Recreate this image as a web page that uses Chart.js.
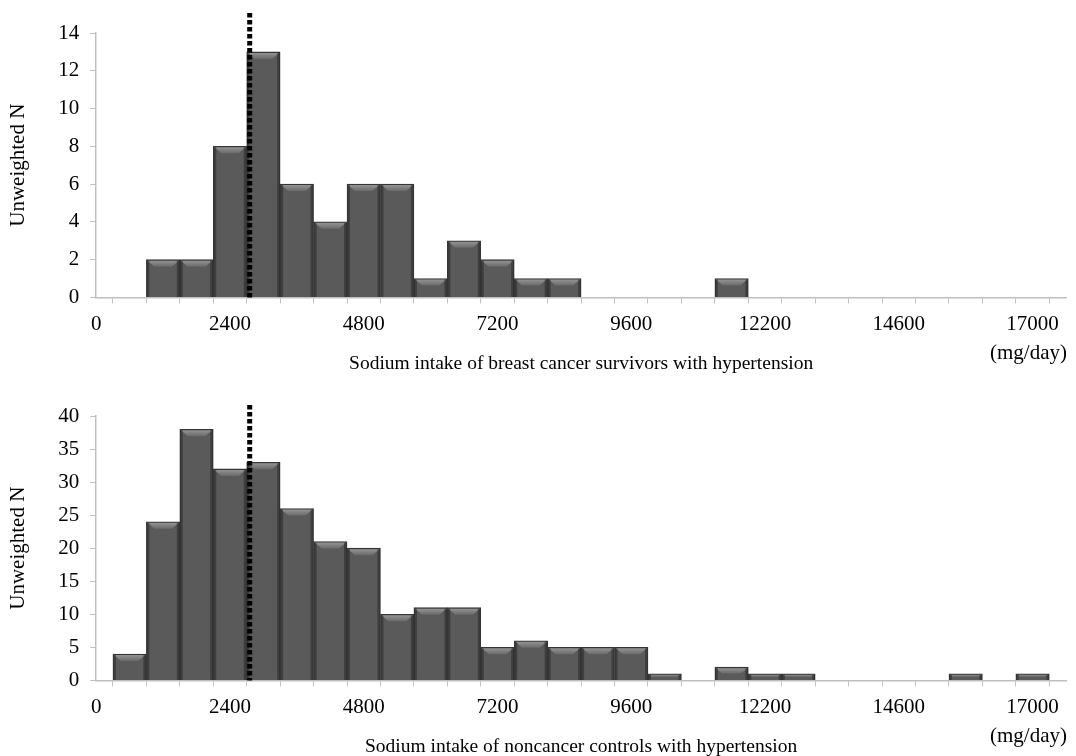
<!DOCTYPE html>
<html>
<head>
<meta charset="utf-8">
<script src="https://cdn.jsdelivr.net/npm/chart.js@4.4.0/dist/chart.umd.min.js"></script>
<style>
  html, body { margin: 0; padding: 0; background: #fff; overflow: hidden; }
  canvas { display: block; }
</style>
</head>
<body>
<canvas id="graficoSobrevivientes" width="1076" height="380"></canvas>
<canvas id="graficoControles" width="1076" height="379"></canvas>
<script>
// one category per 600 mg bin, 30 bins on each axis
const categorias = Array.from({ length: 30 }, (_, i) => i)

// labels printed under every 4th bin (as in the original figure)
const etiquetasX = ["0", "2400", "4800", "7200", "9600", "12200", "14600", "17000"]

const survivorsN = [0, 0, 2, 2, 8, 13, 6, 4, 6, 6, 1, 3, 2, 1, 1, 0, 0, 0, 0, 1, 0, 0, 0, 0, 0, 0, 0, 0, 0, 0]
const controlsN = [0, 4, 24, 38, 32, 33, 26, 21, 20, 10, 11, 11, 5, 6, 5, 5, 5, 1, 0, 2, 1, 1, 0, 0, 0, 0, 1, 0, 1, 0]

// dotted reference line, in bin units
const lineaReferencia = 4.59

const fuente = "'Liberation Serif', 'Times New Roman', serif"
const gris = "#bfbfbf"

// bevel look of the bars: light strip on top, darker sides
const bisel = {
    id: "bisel",
    afterDatasetsDraw(chart) {
        const { ctx } = chart
        chart.getDatasetMeta(0).data.forEach(barra => {
            const h = barra.base - barra.y
            if (h <= 0) return
            const izq = barra.x - barra.width / 2
            const der = barra.x + barra.width / 2
            const b = Math.min(7, h / 2)
            ctx.save()
            const g = ctx.createLinearGradient(0, barra.y, 0, barra.y + b)
            g.addColorStop(0, "#9a9a9a")
            g.addColorStop(1, "#6a6a6a")
            ctx.fillStyle = g
            ctx.beginPath()
            ctx.moveTo(izq + 1, barra.y + 1)
            ctx.lineTo(der - 1, barra.y + 1)
            ctx.lineTo(der - 1 - b, barra.y + b)
            ctx.lineTo(izq + 1 + b, barra.y + b)
            ctx.closePath()
            ctx.fill()
            ctx.fillStyle = "rgba(30,30,30,0.45)"
            ctx.fillRect(izq + 1, barra.y + 1, 2, h - 1)
            ctx.fillRect(der - 3, barra.y + 1, 2, h - 1)
            ctx.restore()
        })
    },
}

const lineaPunteada = {
    id: "lineaPunteada",
    afterDatasetsDraw(chart, args, opts) {
        const { ctx, chartArea, scales } = chart
        const x = scales.x.getPixelForValue(lineaReferencia)
        ctx.save()
        ctx.strokeStyle = "#000"
        ctx.lineWidth = 5
        ctx.setLineDash([4.5, 2.5])
        ctx.beginPath()
        ctx.moveTo(x, chartArea.top - opts.arriba)
        ctx.lineTo(x, chartArea.bottom)
        ctx.stroke()
        ctx.restore()
    },
}

const unidad = {
    id: "unidad",
    afterDraw(chart) {
        const { ctx, chartArea } = chart
        ctx.save()
        ctx.font = "21px " + fuente
        ctx.fillStyle = "#000"
        ctx.textAlign = "right"
        ctx.textBaseline = "middle"
        ctx.fillText("(mg/day)", chartArea.right + 1, chartArea.bottom + 56)
        ctx.restore()
    },
}

function crearGrafico(id, datos, yMax, yPaso, titulo, padding, arriba) {
    return new Chart(document.getElementById(id), {
        type: "bar",
        data: {
            labels: categorias,
            datasets: [
                {
                    label: "Unweighted N",
                    data: datos,
                    backgroundColor: "#5a5a5a",
                    borderColor: "#353535",
                    borderWidth: 1.5,
                    categoryPercentage: 1,
                    barPercentage: 1,
                },
            ],
        },
        plugins: [bisel, lineaPunteada, unidad],
        options: {
            responsive: false,
            animation: false,
            layout: { padding: padding },
            plugins: {
                legend: { display: false },
                tooltip: { enabled: false },
                lineaPunteada: { arriba: arriba },
            },
            scales: {
                x: {
                    offset: false,
                    border: { display: true, color: gris, width: 1.5 },
                    grid: {
                        display: true,
                        drawOnChartArea: false,
                        drawTicks: true,
                        tickLength: 6,
                        color: gris,
                    },
                    ticks: {
                        autoSkip: false,
                        maxRotation: 0,
                        color: "#000",
                        padding: 8,
                        font: { family: fuente, size: 21 },
                        callback: (v, i) => (i % 4 === 0 ? etiquetasX[i / 4] : ""),
                    },
                    title: {
                        display: true,
                        text: titulo,
                        color: "#000",
                        padding: { top: 8, bottom: 0 },
                        font: { family: fuente, size: 19.5 },
                    },
                },
                y: {
                    min: 0,
                    max: yMax,
                    border: { display: true, color: gris, width: 1.5 },
                    grid: {
                        display: true,
                        drawOnChartArea: false,
                        drawTicks: true,
                        tickLength: 6,
                        color: gris,
                    },
                    ticks: {
                        stepSize: yPaso,
                        color: "#000",
                        padding: 11,
                        font: { family: fuente, size: 21 },
                    },
                    title: {
                        display: true,
                        text: "Unweighted N",
                        color: "#000",
                        padding: { top: 0, bottom: 16 },
                        font: { family: fuente, size: 21 },
                    },
                },
            },
        },
    })
}

const chart1 = crearGrafico(
    "graficoSobrevivientes",
    survivorsN,
    14,
    2,
    "Sodium intake of breast cancer survivors with hypertension",
    { top: 33, right: 10, left: 6, bottom: 4 },
    20
)

const chart2 = crearGrafico(
    "graficoControles",
    controlsN,
    40,
    5,
    "Sodium intake of noncancer controls with hypertension",
    { top: 36, right: 10, left: 6, bottom: 0 },
    11
)
</script>
</body>
</html>
